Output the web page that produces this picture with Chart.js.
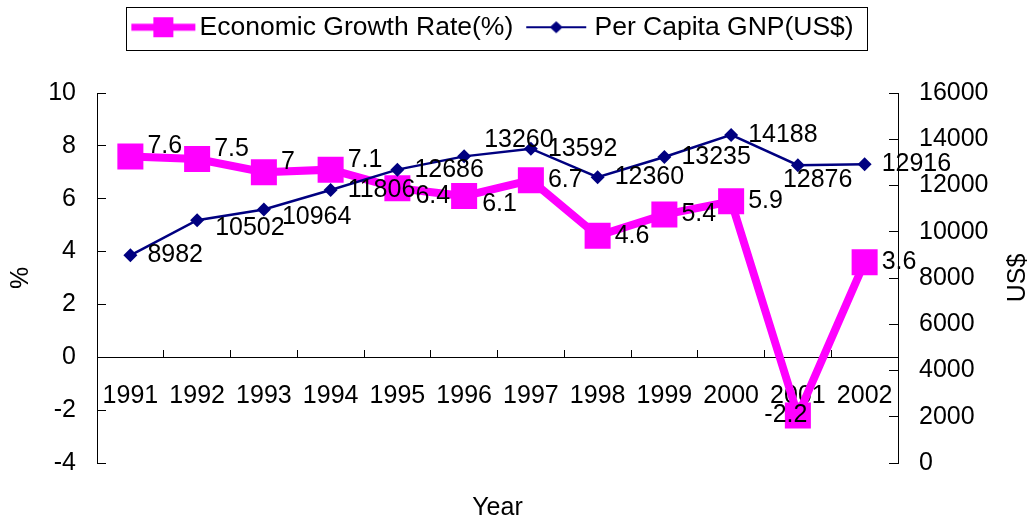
<!DOCTYPE html>
<html>
<head>
<meta charset="utf-8">
<script src="https://cdn.jsdelivr.net/npm/chart.js@4.4.1/dist/chart.umd.min.js"></script>
<style>
  html, body { margin: 0; padding: 0; background: #fff; }
  #wrap { width: 1031px; height: 523px; }
</style>
</head>
<body>
<div id="wrap"><canvas id="chart" width="1031" height="523"></canvas></div>
<script>
const years = ['1991', '1992', '1993', '1994', '1995', '1996', '1997', '1998', '1999', '2000', '2001', '2002'];
const growthRate = [7.6, 7.5, 7, 7.1, 6.4, 6.1, 6.7, 4.6, 5.4, 5.9, -2.2, 3.6];
const gnpPerCapita = [8982, 10502, 10964, 11806, 12686, 13260, 13592, 12360, 13235, 14188, 12876, 12916];
const pctAxis = { min: -4, max: 10, step: 2 };
const usdAxis = { min: 0, max: 16000, step: 2000 };

// where each value label sits relative to its point
const growthLabelPlace = ['rightUp', 'rightUp', 'rightUp', 'rightUp', 'rightDown', 'rightDown', 'right', 'right', 'right', 'right', 'center', 'right'];
const gnpLabelPlace = ['right', 'rightDown', 'rightDown', 'right', 'right', 'aboveRight', 'right', 'right', 'right', 'right', 'belowRight', 'right'];

const PINK = '#FF00FF';
const NAVY = '#000080';
const FONT = '"Liberation Sans", Arial, sans-serif';
// uneven side padding keeps the legend centred over the plot, not the page
const PAD_TOP = 4, PAD_RIGHT = 34, PAD_LEFT = -15;
const PLOT_LEFT = 97, PLOT_RIGHT = 898, PLOT_TOP = 93;

Chart.defaults.font.family = FONT;
Chart.defaults.color = '#000';

// legend icons: line with marker, like the spreadsheet legend
// canvas is wider than the drawn mark so the gaps around it come out tight
function makeIcon(color, lineW, lineLen, marker) {
    const c = document.createElement('canvas');
    c.width = 80;
    c.height = 24;
    const g = c.getContext('2d');
    const a = 14, mid = a + lineLen / 2;
    g.fillStyle = color;
    g.fillRect(a, 12 - lineW / 2, lineLen, lineW);
    if (marker === 'square') {
        g.fillRect(mid - 10, 2, 20, 20);
    } else {
        g.beginPath();
        g.moveTo(mid, 6); g.lineTo(mid + 6.5, 12); g.lineTo(mid, 18); g.lineTo(mid - 6.5, 12);
        g.closePath();
        g.fill();
    }
    return c;
}
const legendIcons = [makeIcon(PINK, 7, 64, 'square'), makeIcon(NAVY, 2, 60, 'diamond')];

const placeOffsets = {
    right: [17, 0, 'left'],
    rightUp: [17, -10, 'left'],
    rightDown: [18, 8, 'left'],
    aboveRight: [20, -16, 'left'],
    belowRight: [-15, 15, 'left'],
    center: [-12, 0, 'center']
};

const valueLabels = {
    id: 'valueLabels',
    afterDatasetsDraw(chart) {
        const ctx = chart.ctx;
        ctx.save();
        ctx.font = '25px ' + FONT;
        ctx.fillStyle = '#000';
        ctx.textBaseline = 'middle';
        chart.data.datasets.forEach((ds, i) => {
            const meta = chart.getDatasetMeta(i);
            const places = i === 0 ? growthLabelPlace : gnpLabelPlace;
            meta.data.forEach((pt, j) => {
                const [dx, dy, align] = placeOffsets[places[j]];
                ctx.textAlign = align;
                ctx.fillText(String(ds.data[j]), pt.x + dx, pt.y + dy);
            });
        });
        ctx.restore();
    }
};

const extras = {
    id: 'extras',
    afterDraw(chart) {
        const ctx = chart.ctx;
        // border round the legend
        const hb = chart.legend.legendHitBoxes;
        if (hb && hb.length) {
            const first = hb[0], last = hb[hb.length - 1];
            const l = first.left - 2;
            const r = last.left + last.width + 14;
            const t = first.top - 7;
            const b = first.top + first.height + 9;
            ctx.save();
            ctx.strokeStyle = '#000';
            ctx.lineWidth = 1;
            ctx.strokeRect(Math.round(l) + 0.5, Math.round(t) + 0.5, Math.round(r - l), Math.round(b - t));
            ctx.restore();
        }
        // right axis title, reading bottom to top
        const y2 = chart.scales.y2;
        ctx.save();
        ctx.font = '25px ' + FONT;
        ctx.fillStyle = '#000';
        ctx.textAlign = 'center';
        ctx.textBaseline = 'middle';
        ctx.translate(1018, (y2.top + y2.bottom) / 2);
        ctx.rotate(-Math.PI / 2);
        ctx.fillText('US$', 0, 0);
        ctx.restore();
    }
};

const tickFont = { size: 25 };

new Chart(document.getElementById('chart'), {
    type: 'line',
    data: {
        labels: years,
        datasets: [
            {
                label: 'Economic Growth Rate(%)',
                data: growthRate,
                yAxisID: 'y',
                order: 1,
                borderColor: PINK,
                backgroundColor: PINK,
                borderWidth: 8,
                pointStyle: 'rect',
                pointRadius: 18.4,
                pointHoverRadius: 18.4,
                pointBorderWidth: 0,
                pointBackgroundColor: PINK,
                tension: 0
            },
            {
                label: 'Per Capita GNP(US$)',
                data: gnpPerCapita,
                yAxisID: 'y2',
                order: 0,
                borderColor: NAVY,
                backgroundColor: NAVY,
                borderWidth: 2.5,
                pointStyle: 'rectRot',
                pointRadius: 7,
                pointHoverRadius: 7,
                pointBorderWidth: 0,
                pointBackgroundColor: NAVY,
                tension: 0
            }
        ]
    },
    options: {
        responsive: false,
        animation: false,
        layout: { padding: { top: PAD_TOP, right: PAD_RIGHT, left: PAD_LEFT, bottom: 0 } },
        plugins: {
            tooltip: { enabled: false },
            legend: {
                position: 'top',
                labels: {
                    usePointStyle: true,
                    pointStyleWidth: 58,
                    padding: 10,
                    color: '#000',
                    font: { size: 26.5 },
                    generateLabels: chart => chart.data.datasets.map((ds, i) => ({
                        text: ds.label,
                        pointStyle: legendIcons[i],
                        datasetIndex: i,
                        fillStyle: ds.backgroundColor,
                        strokeStyle: ds.borderColor,
                        lineWidth: 0,
                        hidden: false
                    }))
                }
            }
        },
        scales: {
            x: {
                type: 'category',
                position: { y: 0 },
                offset: true,
                grid: { display: true, drawOnChartArea: false, drawTicks: true, tickLength: -8, color: '#000', offset: true },
                border: { display: true, color: '#000', width: 1 },
                ticks: { font: tickFont, color: '#000', padding: 32, maxRotation: 0, minRotation: 0, autoSkip: false }
            },
            xTop: {
                type: 'category',
                position: 'top',
                ticks: { display: false },
                grid: { display: false },
                border: { display: false },
                afterFit: s => { s.height = Math.max(0, PLOT_TOP - PAD_TOP - s.chart.legend.height); }
            },
            xTitle: {
                type: 'category',
                position: 'bottom',
                ticks: { display: false },
                grid: { display: false },
                border: { display: false },
                title: { display: true, text: 'Year', font: { size: 25 }, color: '#000', padding: { top: 0, bottom: 0 } },
                afterFit: s => { s.height = 60; }
            },
            y: {
                position: 'left',
                min: pctAxis.min,
                max: pctAxis.max,
                grid: { display: true, drawOnChartArea: false, drawTicks: true, tickLength: -9, color: '#000' },
                border: { display: true, color: '#000', width: 1 },
                ticks: { stepSize: pctAxis.step, font: tickFont, color: '#000', padding: 30 },
                title: { display: true, text: '%', font: { size: 25 }, color: '#000', padding: { top: 21, bottom: 0 } },
                afterFit: s => { s.width = PLOT_LEFT - PAD_LEFT; }
            },
            y2: {
                position: 'right',
                min: usdAxis.min,
                max: usdAxis.max,
                grid: { display: true, drawOnChartArea: false, drawTicks: true, tickLength: -9, color: '#000' },
                border: { display: true, color: '#000', width: 1 },
                ticks: { stepSize: usdAxis.step, font: tickFont, color: '#000', padding: 30, callback: v => String(v) },
                afterFit: s => { s.width = 1031 - PAD_RIGHT - PLOT_RIGHT; }
            }
        }
    },
    plugins: [valueLabels, extras]
});
</script>
</body>
</html>
